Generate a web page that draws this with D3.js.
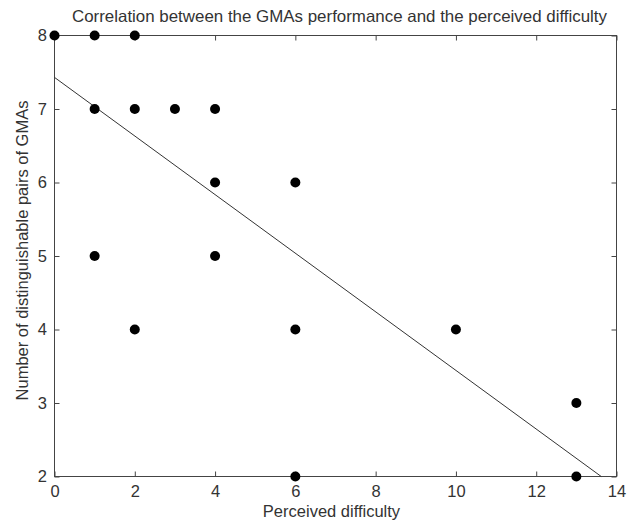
<!DOCTYPE html>
<html>
<head>
<meta charset="utf-8">
<script src="https://cdn.jsdelivr.net/npm/d3@7/dist/d3.min.js"></script>
<style>
  html, body { margin: 0; padding: 0; background: #fff; }
  svg text { font-family: "Liberation Sans", Arial, sans-serif; fill: #333; }
</style>
</head>
<body>
<svg id="chart" width="634" height="526"></svg>
<script>
// Perceived difficulty vs. number of distinguishable GMA pairs
const difficulty = [0, 1, 2, 1, 2, 3, 4, 4, 6, 1, 4, 2, 6, 10, 13, 6, 13];
const pairs      = [8, 8, 8, 7, 7, 7, 7, 6, 6, 5, 5, 4, 4, 4, 3, 2, 2];

// Fitted trend line endpoints
const fitX = [0, 13.62];
const fitY = [7.43, 2];

const xTicks = [0, 2, 4, 6, 8, 10, 12, 14];
const yTicks = [2, 3, 4, 5, 6, 7, 8];

const titleText = "Correlation between the GMAs performance and the perceived difficulty";
const xLabel = "Perceived difficulty";
const yLabel = "Number of distinguishable pairs of GMAs";

const svg = d3.select("#chart");
const plotL = 54.5, plotR = 616.5, plotT = 35.5, plotB = 476.5;

const x = d3.scaleLinear().domain([0, 14]).range([plotL, plotR]);
const y = d3.scaleLinear().domain([2, 8]).range([plotB, plotT]);

const axisColor = "#444";
const tickLen = 5;
const fontSize = 16.5;

// box frame
svg.append("rect")
  .attr("x", plotL).attr("y", plotT)
  .attr("width", plotR - plotL).attr("height", plotB - plotT)
  .attr("fill", "none").attr("stroke", axisColor).attr("stroke-width", 1);

// axes with inward ticks
function styleAxis(g) {
  g.select(".domain").remove();
  g.selectAll(".tick line").attr("stroke", axisColor);
  g.selectAll(".tick text").attr("font-size", fontSize).attr("fill", "#333")
    .attr("font-family", "Liberation Sans, Arial, sans-serif");
}
svg.append("g").attr("transform", `translate(0,${plotB})`)
  .call(d3.axisBottom(x).tickValues(xTicks).tickSizeInner(-tickLen).tickSizeOuter(0).tickPadding(9).tickFormat(d3.format("d")))
  .call(styleAxis);
svg.append("g").attr("transform", `translate(0,${plotT})`)
  .call(d3.axisTop(x).tickValues(xTicks).tickSizeInner(-tickLen).tickSizeOuter(0).tickFormat(""))
  .call(styleAxis);
svg.append("g").attr("transform", `translate(${plotL},0)`)
  .call(d3.axisLeft(y).tickValues(yTicks).tickSizeInner(-tickLen).tickSizeOuter(0).tickPadding(7.5).tickFormat(d3.format("d")))
  .call(styleAxis);
svg.append("g").attr("transform", `translate(${plotR},0)`)
  .call(d3.axisRight(y).tickValues(yTicks).tickSizeInner(-tickLen).tickSizeOuter(0).tickFormat(""))
  .call(styleAxis);

// trend line
svg.append("line")
  .attr("x1", x(fitX[0])).attr("y1", y(fitY[0]))
  .attr("x2", x(fitX[1])).attr("y2", y(fitY[1]))
  .attr("stroke", "#333").attr("stroke-width", 1);

// data points
svg.append("g").selectAll("circle")
  .data(d3.zip(difficulty, pairs))
  .join("circle")
  .attr("cx", d => x(d[0]))
  .attr("cy", d => y(d[1]))
  .attr("r", 5)
  .attr("fill", "#000");

// labels
svg.append("text")
  .attr("x", 339.5).attr("y", 22)
  .attr("text-anchor", "middle").attr("font-size", fontSize)
  .attr("textLength", 535).attr("lengthAdjust", "spacingAndGlyphs")
  .text(titleText);
svg.append("text")
  .attr("x", 331.5).attr("y", 517)
  .attr("text-anchor", "middle").attr("font-size", fontSize)
  .text(xLabel);
svg.append("text")
  .attr("transform", `translate(28,250.5) rotate(-90)`)
  .attr("text-anchor", "middle").attr("font-size", fontSize)
  .text(yLabel);
</script>
</body>
</html>
